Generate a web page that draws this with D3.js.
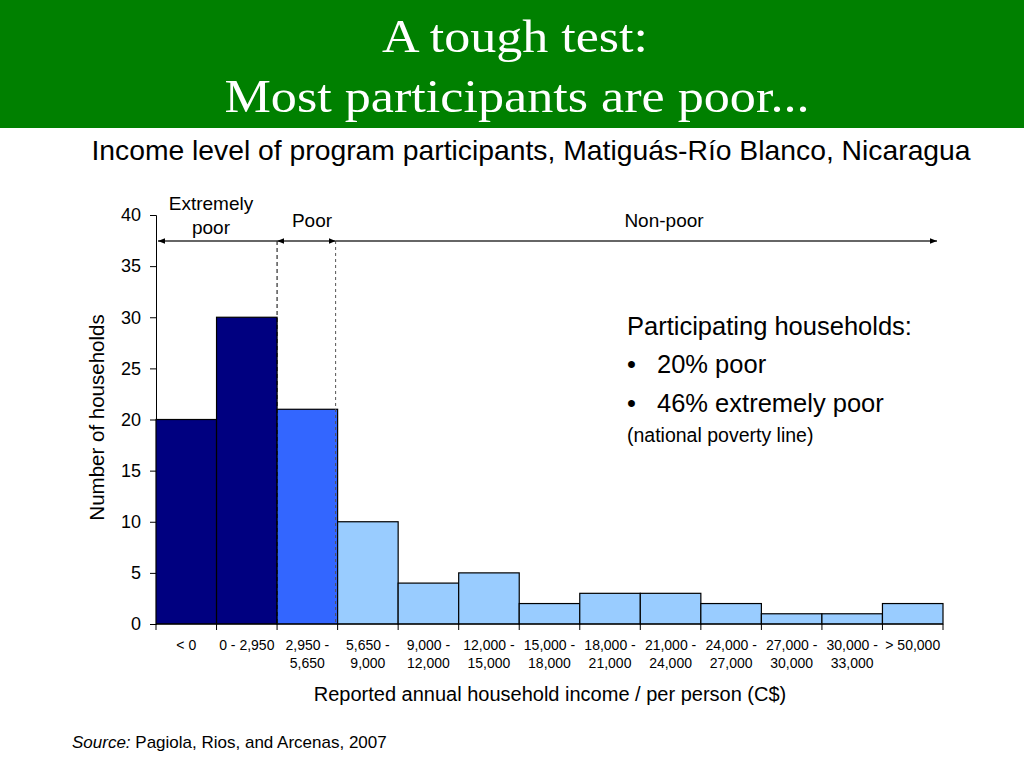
<!DOCTYPE html>
<html>
<head>
<meta charset="utf-8">
<script src="https://cdn.jsdelivr.net/npm/d3@7"></script>
<style>
  body { margin: 0; background: #fff; }
  svg text { font-family: "Liberation Sans", Arial, sans-serif; }
</style>
</head>
<body>
<div id="chart"></div>
<script>
// data
const bins = ['< 0', '0 - 2,950', '2,950 -|5,650', '5,650 -|9,000', '9,000 -|12,000', '12,000 -|15,000',
    '15,000 -|18,000', '18,000 -|21,000', '21,000 -|24,000', '24,000 -|27,000', '27,000 -|30,000',
    '30,000 -|33,000', '> 50,000'];
const households = [20, 30, 21, 10, 4, 5, 2, 3, 3, 2, 1, 1, 2];
const group = ['ext', 'ext', 'poor', 'non', 'non', 'non', 'non', 'non', 'non', 'non', 'non', 'non', 'non'];
const yTicks = [0, 5, 10, 15, 20, 25, 30, 35, 40];

const colors = { ext: '#000080', poor: '#3366ff', non: '#99ccff' };

const svg = d3.select('#chart')
    .append('svg')
    .attr('width', 1024)
    .attr('height', 768);

// header band
svg.append('rect')
    .attr('x', 0).attr('y', 0)
    .attr('width', 1024).attr('height', 128)
    .attr('fill', '#008000');

svg.append('text')
    .attr('x', 515).attr('y', 52)
    .attr('text-anchor', 'middle')
    .style('font-family', '"Liberation Serif", "Times New Roman", serif')
    .style('font-size', '46px')
    .attr('textLength', 266)
    .attr('lengthAdjust', 'spacingAndGlyphs')
    .attr('fill', '#fff')
    .text('A tough test:');
svg.append('text')
    .attr('x', 517).attr('y', 112)
    .attr('text-anchor', 'middle')
    .style('font-family', '"Liberation Serif", "Times New Roman", serif')
    .style('font-size', '46px')
    .attr('textLength', 585)
    .attr('lengthAdjust', 'spacingAndGlyphs')
    .attr('fill', '#fff')
    .text('Most participants are poor...');

svg.append('text')
    .attr('x', 531).attr('y', 160)
    .attr('text-anchor', 'middle')
    .style('font-size', '28.3px')
    .text('Income level of program participants, Matiguás-Río Blanco, Nicaragua');

const plotLeft = 156, plotRight = 943, plotTop = 215, plotBottom = 624;

const xScale = d3.scaleBand()
    .range([plotLeft, plotRight])
    .domain(d3.range(bins.length))
    .padding(0);

const yScale = d3.scaleLinear()
    .range([plotBottom, plotTop])
    .domain([0, 40]);

// y axis
const yAxis = d3.axisLeft(yScale)
    .tickValues(yTicks)
    .tickSize(6)
    .tickPadding(9);

const gy = svg.append('g')
    .attr('transform', `translate(${plotLeft}, 0)`)
    .call(yAxis);
gy.selectAll('text').style('font-size', '18px').attr('fill', '#000');
gy.selectAll('line, path').attr('stroke', '#000');

svg.append('text')
    .attr('transform', 'rotate(-90)')
    .attr('x', -(313 + 522) / 2)
    .attr('y', 104)
    .attr('text-anchor', 'middle')
    .style('font-size', '20.5px')
    .text('Number of households');

// bars
svg.selectAll('.bar')
    .data(households)
    .enter()
    .append('rect')
    .attr('class', 'bar')
    .attr('x', (d, i) => xScale(i))
    .attr('y', d => yScale(d))
    .attr('width', xScale.bandwidth())
    .attr('height', d => plotBottom - yScale(d))
    .attr('fill', (d, i) => colors[group[i]])
    .attr('stroke', '#000')
    .attr('stroke-width', 1.2);

// x axis with ticks on bin edges
svg.append('line')
    .attr('x1', plotLeft).attr('x2', plotRight)
    .attr('y1', plotBottom).attr('y2', plotBottom)
    .attr('stroke', '#000');

const edges = d3.range(bins.length + 1).map(i => plotLeft + i * xScale.bandwidth());
svg.selectAll('.xtick')
    .data(edges)
    .enter()
    .append('line')
    .attr('x1', d => d).attr('x2', d => d)
    .attr('y1', plotBottom).attr('y2', plotBottom + 6)
    .attr('stroke', '#000');

const xl = svg.selectAll('.xlab')
    .data(bins)
    .enter()
    .append('text')
    .attr('text-anchor', 'middle')
    .style('font-size', '14px');
xl.each(function (d, i) {
    const parts = d.split('|');
    parts.forEach((p, k) => {
        d3.select(this).append('tspan')
            .attr('x', xScale(i) + xScale.bandwidth() / 2)
            .attr('y', 650 + k * 18)
            .text(p);
    });
});

svg.append('text')
    .attr('x', 550).attr('y', 701)
    .attr('text-anchor', 'middle')
    .style('font-size', '20px')
    .text('Reported annual household income / per person (C$)');

// poverty lines
const ext = xScale(2);
const poorEnd = xScale(3) - 2;
const arrowY = 241;

svg.append('line')
    .attr('x1', ext).attr('x2', ext)
    .attr('y1', arrowY).attr('y2', plotBottom)
    .attr('stroke', '#000')
    .attr('stroke-dasharray', '4,3');
svg.append('line')
    .attr('x1', poorEnd).attr('x2', poorEnd)
    .attr('y1', arrowY).attr('y2', plotBottom)
    .attr('stroke', '#555')
    .attr('stroke-dasharray', '3,3');

const defs = svg.append('defs');
defs.append('marker')
    .attr('id', 'arr')
    .attr('viewBox', '0 0 10 10')
    .attr('refX', 10).attr('refY', 5)
    .attr('markerWidth', 7).attr('markerHeight', 7)
    .attr('markerUnits', 'userSpaceOnUse')
    .attr('orient', 'auto-start-reverse')
    .append('path')
    .attr('d', 'M0,1 L10,5 L0,9 Z')
    .attr('fill', '#000');

svg.append('line')
    .attr('x1', plotLeft + 2).attr('x2', ext)
    .attr('y1', arrowY).attr('y2', arrowY)
    .attr('stroke', '#333').attr('stroke-width', 1.5)
    .attr('marker-start', 'url(#arr)');
svg.append('line')
    .attr('x1', ext).attr('x2', poorEnd)
    .attr('y1', arrowY).attr('y2', arrowY)
    .attr('stroke', '#333').attr('stroke-width', 1.5)
    .attr('marker-start', 'url(#arr)')
    .attr('marker-end', 'url(#arr)');
svg.append('line')
    .attr('x1', poorEnd).attr('x2', 937)
    .attr('y1', arrowY).attr('y2', arrowY)
    .attr('stroke', '#333').attr('stroke-width', 1.5)
    .attr('marker-end', 'url(#arr)');

svg.append('text')
    .attr('x', 211).attr('y', 210)
    .attr('text-anchor', 'middle')
    .style('font-size', '19px')
    .text('Extremely');
svg.append('text')
    .attr('x', 211).attr('y', 234)
    .attr('text-anchor', 'middle')
    .style('font-size', '19px')
    .text('poor');
svg.append('text')
    .attr('x', 312).attr('y', 227)
    .attr('text-anchor', 'middle')
    .style('font-size', '19px')
    .text('Poor');
svg.append('text')
    .attr('x', 664).attr('y', 227)
    .attr('text-anchor', 'middle')
    .style('font-size', '19px')
    .text('Non-poor');

// annotation
svg.append('text')
    .attr('x', 627).attr('y', 335)
    .style('font-size', '25.5px')
    .text('Participating households:');
const bullets = ['20% poor', '46% extremely poor'];
bullets.forEach((b, i) => {
    svg.append('text')
        .attr('x', 627).attr('y', 373 + i * 39)
        .style('font-size', '25.5px')
        .text('•');
    svg.append('text')
        .attr('x', 657).attr('y', 373 + i * 39)
        .style('font-size', '25.5px')
        .text(b);
});
svg.append('text')
    .attr('x', 627).attr('y', 442)
    .style('font-size', '19.5px')
    .text('(national poverty line)');

// source
const src = svg.append('text')
    .attr('x', 72).attr('y', 748)
    .style('font-size', '17px');
src.append('tspan').style('font-style', 'italic').text('Source:');
src.append('tspan').text(' Pagiola, Rios, and Arcenas, 2007');
</script>
</body>
</html>
